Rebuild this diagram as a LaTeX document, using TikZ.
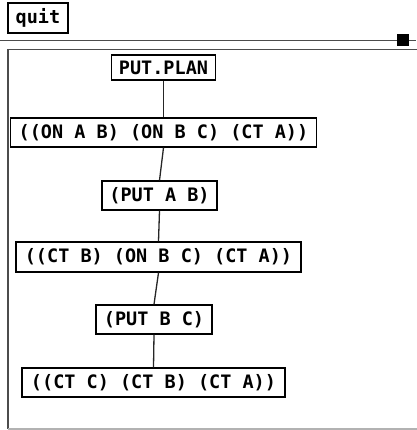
\documentclass[tikz,border=0pt]{standalone}
\usepackage{fontspec}
\newfontfamily\pixfont{DejaVu Sans Mono}[BoldFont={DejaVu Sans Mono Bold}]
\begin{document}
\begin{tikzpicture}[x=1pt,y=-1pt,
  box/.style={draw=black,line width=1.3pt,fill=white,inner sep=0pt,
    font=\pixfont\bfseries\fontsize{18.5}{20}\selectfont,anchor=center},
  link/.style={draw=black!85,line width=1.3pt},
  rule/.style={draw=black!70,line width=1.3pt}]
\useasboundingbox (0,0) rectangle (416,430);
% top bar
\node[box,minimum width=60pt,minimum height=30pt] (quit) at (38,18) {quit};
\coordinate (barL) at (0,40.7);
\coordinate (barR) at (416,40.7);
\draw[rule] (barL) -- (barR);
\node[fill=black,inner sep=0pt,minimum width=12pt,minimum height=12pt] (knob) at (402.5,40) {};
% panel
\coordinate (pTL) at (8,49.3);
\coordinate (pTR) at (420,49.3);
\coordinate (pBL) at (8,429);
\coordinate (pBR) at (420,429);
\draw[rule] (pTR) -- (pTL) -- (pBL);
\draw[draw=black!30,line width=1.2pt] (pBL) -- (pBR);
% nodes
\node[box,minimum width=104pt,minimum height=25pt] (plan) at (163.5,67.5) {PUT.PLAN};
\node[box,minimum width=306pt,minimum height=29pt] (n2) at (163.5,132.5) {((ON A B) (ON B C) (CT A))};
\node[box,minimum width=115pt,minimum height=29pt] (n3) at (159.5,195.5) {(PUT A B)};
\node[box,minimum width=285pt,minimum height=30pt] (n4) at (158.5,257) {((CT B) (ON B C) (CT A))};
\node[box,minimum width=116pt,minimum height=29pt] (n5) at (154,319.5) {(PUT B C)};
\node[box,minimum width=263pt,minimum height=29pt] (n6) at (153.5,382.5) {((CT C) (CT B) (CT A))};
% connectors
\draw[link] (plan.south) -- (n2.north);
\draw[link] (n2.south) -- (n3.north);
\draw[link] (n3.south) -- (n4.north);
\draw[link] (n4.south) -- (n5.north);
\draw[link] (n5.south) -- (n6.north);
\end{tikzpicture}
\end{document}
